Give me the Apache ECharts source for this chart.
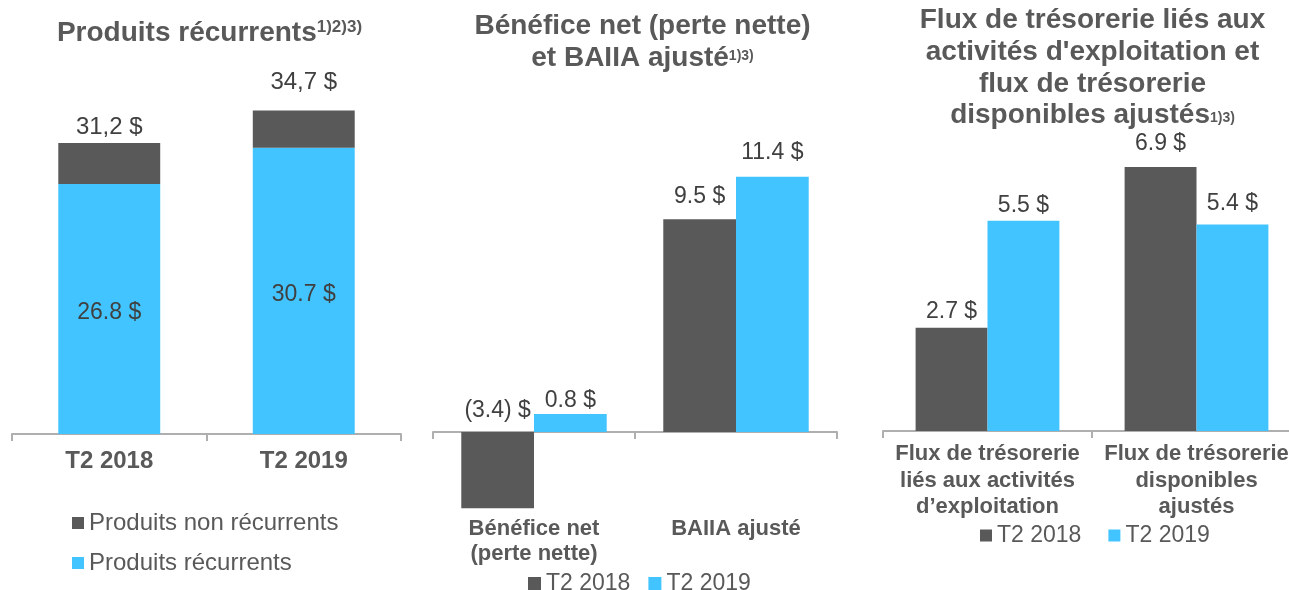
<!DOCTYPE html>
<html><head><meta charset="utf-8">
<script src="https://cdn.jsdelivr.net/npm/echarts@6/dist/echarts.min.js"></script>
<style>html,body{margin:0;padding:0;background:#fff}#c{width:1289px;height:590px}</style>
</head><body><div id="c"></div>
<script>
// ---- Data ----
const rcCategories = ['T2 2018', 'T2 2019'];
const rcRecurring = [26.8, 30.7];
const rcNonRecurring = [4.4, 4.0];
const rcTotals = [31.2, 34.7];

const niCategories = ['Bénéfice net\n(perte nette)', 'BAIIA ajusté'];
const ni2018 = [-3.4, 9.5];
const ni2019 = [0.8, 11.4];

const cfCategories = ['Flux de trésorerie\nliés aux activités\nd’exploitation', 'Flux de trésorerie\ndisponibles\najustés'];
const cf2018 = [2.7, 6.9];
const cf2019 = [5.5, 5.4];

// ---- Styling ----
const F = '"Liberation Sans", Arial, Helvetica, sans-serif';
const DARK = '#595959';
const BLUE = '#41C4FF';
const TXT = '#595959';
const VAL = '#404040';
const AX = '#AFAFAF';

// label gaps (styling only)
const gapTotals = [4, 16];
const gapNi18 = [10, 11], gapNi19 = [2, 12];
const gapCf18 = [5, 12], gapCf19 = [3, 9];

function fmtDot(v) { return v < 0 ? '(' + Math.abs(v).toFixed(1) + ') $' : v.toFixed(1) + ' $'; }
function fmtComma(v) { return v.toFixed(1).replace('.', ',') + ' $'; }
function withGaps(arr, gaps) { return arr.map((v, i) => ({ value: v, label: { distance: gaps[i] } })); }

const valLabel = { show: true, position: 'top', fontSize: 23, color: VAL, fontFamily: F,
  formatter: p => fmtDot(p.value) };

function xAx(grid, data, size, margin, lh) {
  return { type: 'category', gridIndex: grid, data: data,
    axisLine: { show: true, lineStyle: { color: AX, width: 2 } },
    axisTick: { show: true, length: 7, lineStyle: { color: AX, width: 2 } },
    axisLabel: { interval: 0, fontSize: size, fontWeight: 'bold', color: TXT, fontFamily: F, margin: margin, lineHeight: lh } };
}

function titleRich(supSize, supPad) {
  return {
    a: { fontSize: 28, fontWeight: 'bold', fontFamily: F, fill: TXT, lineHeight: 31.7 },
    s: { fontSize: supSize, fontWeight: 'bold', fontFamily: F, fill: TXT, padding: supPad }
  };
}

const chart = echarts.init(document.getElementById('c'), null, { renderer: 'canvas' });
chart.setOption({
  animation: false,
  backgroundColor: '#fff',
  textStyle: { fontFamily: F },
  graphic: [
    { type: 'text', x: 209.5, y: 33, style: { text: '{a|Produits récurrents}{s|1)2)3)}', rich: titleRich(17, [0, 0, 12, 0]), align: 'center', verticalAlign: 'middle' } },
    { type: 'text', x: 642.5, y: 42, style: { text: '{a|Bénéfice net (perte nette)}\n{a|et BAIIA ajusté}{s|1)3)}', rich: titleRich(14, [0, 0, 4, 0]), align: 'center', verticalAlign: 'middle' } },
    { type: 'text', x: 1092.5, y: 68, style: { text: '{a|Flux de trésorerie liés aux}\n{a|activités d\'exploitation et}\n{a|flux de trésorerie}\n{a|disponibles ajustés}{s|1)3)}', rich: titleRich(14, [6, 0, 0, 0]), align: 'center', verticalAlign: 'middle' } }
  ],
  grid: [
    { left: 12, width: 389, top: 61, height: 373, containLabel: false, outerBoundsMode: 'none' },
    { left: 433, width: 404, top: 96, height: 414.4, containLabel: false, outerBoundsMode: 'none' },
    { left: 883, width: 418, top: 125, height: 306, containLabel: false, outerBoundsMode: 'none' }
  ],
  xAxis: [
    xAx(0, rcCategories, 24, 15.5, 24),
    xAx(1, niCategories, 22, 6, 25),
    xAx(2, cfCategories, 22, 9.7, 26.5)
  ],
  yAxis: [
    { type: 'value', gridIndex: 0, min: 0, max: 40, show: false },
    { type: 'value', gridIndex: 1, min: -3.5, max: 15, show: false },
    { type: 'value', gridIndex: 2, min: 0, max: 8, show: false }
  ],
  legend: [
    { orient: 'vertical', left: 67, top: 506, itemGap: 16, itemWidth: 12, itemHeight: 12, icon: 'rect',
      data: ['Produits non récurrents', 'Produits récurrents'],
      textStyle: { fontSize: 24, color: TXT, fontFamily: F } },
    { left: 523, top: 567, itemGap: 18, itemWidth: 13, itemHeight: 13, icon: 'rect',
      data: ['T2 2018', 'T2 2019'], textStyle: { fontSize: 23, color: TXT, fontFamily: F } },
    { left: 975, top: 519, itemGap: 27, itemWidth: 12, itemHeight: 12, icon: 'rect',
      data: ['T2 2018', 'T2 2019'], textStyle: { fontSize: 23, color: TXT, fontFamily: F } }
  ],
  series: [
    { name: 'Produits récurrents', type: 'bar', stack: 'rc', xAxisIndex: 0, yAxisIndex: 0, barWidth: '52.4%',
      data: rcRecurring, itemStyle: { color: BLUE },
      label: { show: true, position: 'inside', offset: [0, 4], fontSize: 23, color: VAL, fontFamily: F, formatter: p => fmtDot(p.value) } },
    { name: 'Produits non récurrents', type: 'bar', stack: 'rc', xAxisIndex: 0, yAxisIndex: 0, barWidth: '52.4%',
      data: withGaps(rcNonRecurring, gapTotals), itemStyle: { color: DARK },
      label: { show: true, position: 'top', fontSize: 24, color: VAL, fontFamily: F, formatter: p => fmtComma(rcTotals[p.dataIndex]) } },

    { name: 'T2 2018', type: 'bar', xAxisIndex: 1, yAxisIndex: 1, barWidth: '36%', barGap: '0%',
      data: withGaps(ni2018, gapNi18), itemStyle: { color: DARK }, label: valLabel },
    { name: 'T2 2019', type: 'bar', xAxisIndex: 1, yAxisIndex: 1, barWidth: '36%', barGap: '0%',
      data: withGaps(ni2019, gapNi19), itemStyle: { color: BLUE }, label: valLabel },

    { name: 'T2 2018', type: 'bar', xAxisIndex: 2, yAxisIndex: 2, barWidth: '34.4%', barGap: '0%',
      data: withGaps(cf2018, gapCf18), itemStyle: { color: DARK }, label: valLabel },
    { name: 'T2 2019', type: 'bar', xAxisIndex: 2, yAxisIndex: 2, barWidth: '34.4%', barGap: '0%',
      data: withGaps(cf2019, gapCf19), itemStyle: { color: BLUE }, label: valLabel }
  ]
});
</script>
</body></html>
